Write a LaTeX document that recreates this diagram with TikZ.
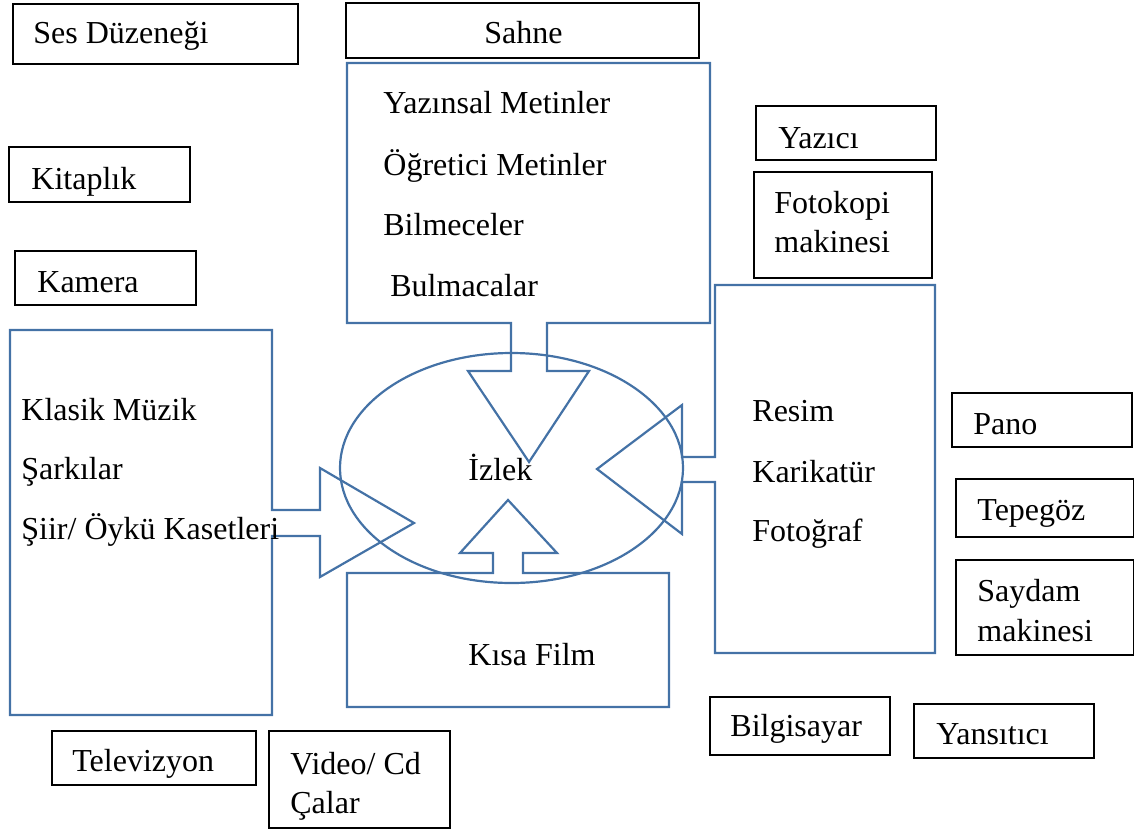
\documentclass[tikz,border=0pt]{standalone}
\usepackage{fontspec}
\setmainfont{Liberation Serif}
\usetikzlibrary{shapes.geometric}
\definecolor{shapeblue}{RGB}{68,114,166}
\tikzset{
  blackbox/.style={draw=black, line width=1pt},
  blueshape/.style={draw=shapeblue, line width=1.1pt, line join=miter},
  lbl/.style={anchor=base west, inner sep=0pt, font=\fontsize{16}{19.5}\selectfont},
}
\begin{document}
\begin{tikzpicture}[x=0.5pt, y=-0.5pt]
\useasboundingbox (0,0) rectangle (1134,835);

% ---- blue shapes with their built-in arrows ----
% top panel with arrow pointing down into the ellipse
\draw[blueshape] (347,63) -- (710,63) -- (710,323) -- (547,323) -- (547,371)
  -- (589,371) -- (529,462) -- (468,371) -- (511,371) -- (511,323) -- (347,323) -- cycle;
% left panel with arrow pointing right
\draw[blueshape] (10,330) -- (272,330) -- (272,510) -- (320,510) -- (320,468)
  -- (414,523) -- (320,577) -- (320,536) -- (272,536) -- (272,715) -- (10,715) -- cycle;
% right panel with arrow pointing left
\draw[blueshape] (715,285) -- (935,285) -- (935,653) -- (715,653) -- (715,482)
  -- (682,482) -- (682,534) -- (597,469) -- (682,405) -- (682,457) -- (715,457) -- cycle;
% bottom panel with arrow pointing up
\draw[blueshape] (347,573) -- (493,573) -- (493,553) -- (460,553) -- (508,500)
  -- (557,553) -- (523,553) -- (523,573) -- (669,573) -- (669,707) -- (347,707) -- cycle;

% central ellipse
\node[ellipse, draw=shapeblue, line width=1.1pt, inner sep=0pt,
      minimum width=171.5pt, minimum height=115pt] (center) at (511.5,468) {};
\node[lbl] (izlek) at (468,480) {İzlek};

% ---- black boxes ----
\draw[blackbox] (13,4) rectangle (298,64);
\node[lbl] (ses) at (33,43) {Ses Düzeneği};

\draw[blackbox] (346,3) rectangle (699,58);
\node[lbl] (sahne) at (484,43) {Sahne};

\draw[blackbox] (9,147) rectangle (190,202);
\node[lbl] (kitaplik) at (31,189) {Kitaplık};

\draw[blackbox] (15,251) rectangle (196,305);
\node[lbl] (kamera) at (37,292) {Kamera};

\draw[blackbox] (756,106) rectangle (936,160);
\node[lbl] (yazici) at (778,148) {Yazıcı};

\draw[blackbox] (754,172) rectangle (932,278);
\node[lbl] (foto1) at (774,213) {Fotokopi};
\node[lbl] (foto2) at (774,252) {makinesi};

\draw[blackbox] (952,393) rectangle (1132,447);
\node[lbl] (pano) at (973,434) {Pano};

\draw[blackbox] (956,479) rectangle (1134,537);
\node[lbl] (tepegoz) at (977,520) {Tepegöz};

\draw[blackbox] (956,560) rectangle (1134,655);
\node[lbl] (saydam1) at (977,601) {Saydam};
\node[lbl] (saydam2) at (977,641) {makinesi};

\draw[blackbox] (52,731) rectangle (256,785);
\node[lbl] (tv) at (72,771) {Televizyon};

\draw[blackbox] (269,731) rectangle (450,828);
\node[lbl] (video1) at (290,774) {Video/ Cd};
\node[lbl] (video2) at (290,813) {Çalar};

\draw[blackbox] (710,697) rectangle (890,755);
\node[lbl] (bilgisayar) at (730,736) {Bilgisayar};

\draw[blackbox] (914,704) rectangle (1094,758);
\node[lbl] (yansitici) at (936,744) {Yansıtıcı};

% ---- texts inside the blue panels ----
\node[lbl] (t1) at (383,113) {Yazınsal Metinler};
\node[lbl] (t2) at (383,175) {Öğretici Metinler};
\node[lbl] (t3) at (383,235) {Bilmeceler};
\node[lbl] (t4) at (390,296) {Bulmacalar};

\node[lbl] (l1) at (21,420) {Klasik Müzik};
\node[lbl] (l2) at (21,479) {Şarkılar};
\node[lbl] (l3) at (21,539) {Şiir/ Öykü Kasetleri};

\node[lbl] (r1) at (752,421) {Resim};
\node[lbl] (r2) at (752,482) {Karikatür};
\node[lbl] (r3) at (752,541) {Fotoğraf};

\node[lbl] (film) at (468,665) {Kısa Film};
\end{tikzpicture}
\end{document}
